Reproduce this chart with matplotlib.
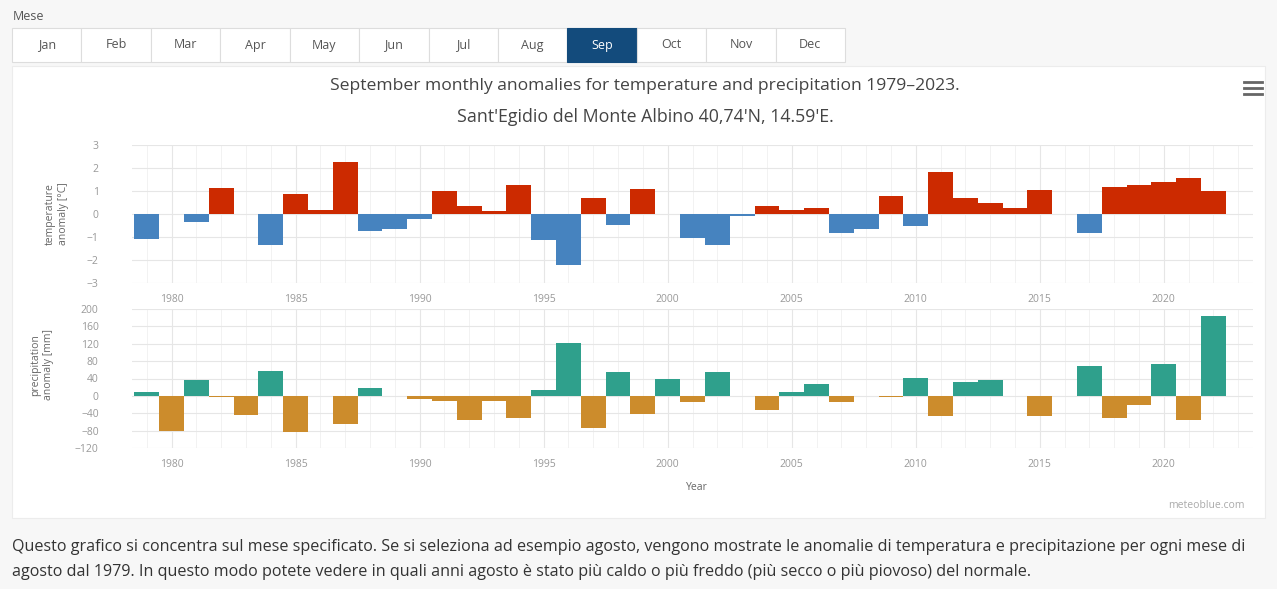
import matplotlib
matplotlib.use("Agg")
import matplotlib.pyplot as plt
from matplotlib.patches import Rectangle
from matplotlib.lines import Line2D

plt.rcParams['font.family'] = ['Open Sans', 'DejaVu Sans']

# dati (settembre)
years = list(range(1979, 2023))
temp_anom = [-1.1, 0.0, -0.35, 1.15, 0.0, -1.35, 0.88, 0.18, 2.25, -0.76,
             -0.64, -0.22, 0.98, 0.36, 0.11, 1.25, -1.12, -2.23, 0.69, -0.47,
             1.08, 0.0, -1.05, -1.34, -0.1, 0.36, 0.18, 0.28, -0.83, -0.64,
             0.77, -0.52, 1.84, 0.69, 0.47, 0.26, 1.05, 0.0, -0.83, 1.17,
             1.27, 1.37, 1.56, 0.98]
prec_anom = [8, -80, 37, -3, -45, 58, -83, 0, -65, 18,
             0, -8, -12, -55, -11, -51, 13, 122, -74, 56,
             -42, 39, -13, 55, 0, -32, 8, 27, -14, 0,
             -3, 41, -47, 32, 36, 0, -47, 0, 68, -51,
             -20, 73, -55, 183]
months = ['Jan', 'Feb', 'Mar', 'Apr', 'May', 'Jun', 'Jul', 'Aug', 'Sep', 'Oct', 'Nov', 'Dec']
sel_month = 'Sep'

W, H = 1277, 589
fig = plt.figure(figsize=(W / 100, H / 100), dpi=100)
fig.patch.set_facecolor('#f7f7f7')

def fx(x):
    return x / W

def fy(y):
    return 1 - y / H

# contenitore bianco del grafico
fig.add_artist(Rectangle((fx(12), fy(518)), fx(1265) - fx(12), fy(66) - fy(518),
                         transform=fig.transFigure, facecolor='white',
                         edgecolor='#ececec', lw=0.8, zorder=0))

# pulsanti dei mesi
fig.text(fx(13), fy(16), 'Mese', fontsize=9, color='#555555', va='center', ha='left')
bw = (845 - 12) / 12
for i, m in enumerate(months):
    x0 = 12 + i * bw
    sel = (m == sel_month)
    fig.add_artist(Rectangle((fx(x0), fy(62)), bw / W, 34 / H, transform=fig.transFigure,
                             facecolor='#134b7c' if sel else 'white',
                             edgecolor='#134b7c' if sel else '#dddddd', lw=0.8))
    fig.text(fx(x0 + bw / 2), fy(45), m, fontsize=9, ha='center', va='center',
             color='white' if sel else '#555555')

# titoli
fig.text(fx(645), fy(86), 'September monthly anomalies for temperature and precipitation 1979–2023.',
         fontsize=12.6, ha='center', va='center', color='#444444')
fig.text(fx(645), fy(117), "Sant'Egidio del Monte Albino 40,74'N, 14.59'E.",
         fontsize=12.8, ha='center', va='center', color='#444444')

# icona menu
for yy in (82, 88, 94):
    fig.add_artist(Line2D([fx(1244), fx(1262)], [fy(yy), fy(yy)], transform=fig.transFigure,
                          color='#666666', lw=2))

x_left, x_right = 132, 1253
ax1 = fig.add_axes([fx(x_left), fy(283), (x_right - x_left) / W, (283 - 145) / H])
ax2 = fig.add_axes([fx(x_left), fy(448), (x_right - x_left) / W, (448 - 309) / H])

c_t = ['#cc2a00' if v >= 0 else '#4683bf' for v in temp_anom]
c_p = ['#2fa08c' if v >= 0 else '#cc8c2c' for v in prec_anom]
ax1.bar(years, temp_anom, width=1.0, color=c_t, zorder=3)
ax2.bar(years, prec_anom, width=1.0, color=c_p, zorder=3)

ax1.set_ylim(-3, 3)
ax1.set_yticks(range(-3, 4))
ax2.set_ylim(-120, 200)
ax2.set_yticks(range(-120, 201, 40))

for ax in (ax1, ax2):
    ax.set_xlim(1978.4, 2023.6)
    ax.set_xticks(range(1980, 2021, 5))
    ax.set_xticks(range(1979, 2024), minor=True)
    ax.set_yticks([], minor=True)
    ax.grid(True, which='major', color='#e6e6e6', lw=0.8, zorder=0)
    ax.grid(True, which='minor', axis='x', color='#f2f2f2', lw=0.7, zorder=0)
    ax.tick_params(which='both', length=0, labelsize=7.5, colors='#999999')
    ax.tick_params(axis='y', pad=24)
    ax.tick_params(axis='x', pad=8)
    for s in ax.spines.values():
        s.set_visible(False)
    ax.set_facecolor('white')

ax1.set_ylabel('temperature\nanomaly [°C]', fontsize=7.5, color='#666666', va='center')
ax1.yaxis.set_label_coords(-0.067, 0.5)
ax2.set_ylabel('precipitation\nanomaly [mm]', fontsize=7.5, color='#666666', va='center')
ax2.yaxis.set_label_coords(-0.080, 0.6)

fig.text(fx(697), fy(487), 'Year', fontsize=7.5, color='#666666', ha='center', va='center')
fig.text(fx(1245), fy(505), 'meteoblue.com', fontsize=7.5, color='#aaaaaa', ha='right', va='center')

# testo descrittivo
fig.text(fx(12), fy(547), 'Questo grafico si concentra sul mese specificato. Se si seleziona ad esempio agosto, '
         'vengono mostrate le anomalie di temperatura e precipitazione per ogni mese di',
         fontsize=11.65, color='#333333', ha='left', va='center')
fig.text(fx(12), fy(572), "agosto dal 1979. In questo modo potete vedere in quali anni agosto è stato più caldo "
         "o più freddo (più secco o più piovoso) del normale.",
         fontsize=11.65, color='#333333', ha='left', va='center')

fig.savefig('out.png', dpi=100, facecolor=fig.get_facecolor())
